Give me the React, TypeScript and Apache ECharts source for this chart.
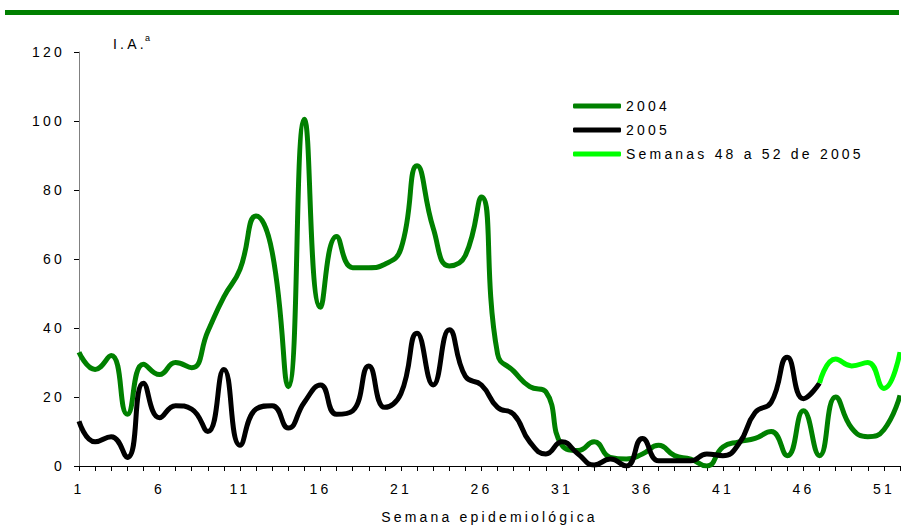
import React, { useEffect, useRef } from "react";
import * as echarts from "echarts";

const weeks = [
  "1", "2", "3", "4", "5", "6", "7", "8", "9", "10",
  "11", "12", "13", "14", "15", "16", "17", "18", "19", "20",
  "21", "22", "23", "24", "25", "26", "27", "28", "29", "30",
  "31", "32", "33", "34", "35", "36", "37", "38", "39", "40",
  "41", "42", "43", "44", "45", "46", "47", "48", "49", "50",
  "51", "52",
];

const values2004 = [
  33, 28, 32, 15, 29.5, 26.5, 30, 28.5, 39, 49,
  57, 72.5, 62, 23, 100.5, 46, 66.5, 57.5, 57.5, 58.5,
  63, 87, 69, 58, 61, 78, 32.5, 27.5, 23, 21.5,
  6, 4.5, 7, 2.5, 2, 3.5, 6, 3, 2, 0,
  5.5, 7, 8, 10, 3, 16, 3, 20, 11, 8.5,
  10.5, 20.5,
];

const values2005 = [
  13, 7, 8.5, 2.5, 24, 14, 17.5, 16.5, 10, 28,
  6, 16.5, 17.5, 11, 18.5, 23.5, 15, 16, 29, 17,
  21, 38.5, 23.5, 39.5, 26, 23.5, 17, 15, 7, 3.5,
  7, 3.5, 0.3, 2, 0, 8, 1.5, 1.5, 1.5, 3.5,
  3, 6.5, 15.5, 18.5, 31.5, 19.5, 24, null, null, null,
  null, null,
];

const valuesLate2005 = [
  null, null, null, null, null, null, null, null, null, null,
  null, null, null, null, null, null, null, null, null, null,
  null, null, null, null, null, null, null, null, null, null,
  null, null, null, null, null, null, null, null, null, null,
  null, null, null, null, null, null, 24, 31, 29, 30,
  22.5, 33,
];

const seriesNames = ["2004", "2005", "Semanas 48 a 52 de 2005"];
const yTicks = { min: 0, max: 120, interval: 20 };
const xAxisTitle = "Semana epidemiológica";
const yAxisTitle = "I.A.";
const yAxisSup = "a";

export default function App() {
  const ref = useRef<HTMLDivElement>(null);

  useEffect(() => {
    if (!ref.current) return;
    const chart = echarts.init(ref.current, null, { renderer: "svg" });
    const font = "Liberation Sans, Arial, sans-serif";
    chart.setOption({
      animation: false,
      backgroundColor: "#ffffff",
      textStyle: { fontFamily: font },
      grid: { left: 79, right: 1, top: 52, height: 420, containLabel: false },
      legend: {
        orient: "vertical",
        left: 573,
        top: 98,
        padding: 0,
        icon: "roundRect",
        itemWidth: 48,
        itemHeight: 5,
        itemGap: 8,
        data: seriesNames,
        textStyle: { fontSize: 14, color: "#000", fontFamily: font, lineHeight: 16, padding: [0, 0, 0, 0] },
      },
      graphic: [
        { type: "rect", shape: { x: 5, y: 10, width: 894, height: 5 }, style: { fill: "#008000" } },
        { type: "text", x: 113, y: 37, style: { text: yAxisTitle, fontSize: 14, fill: "#000", fontFamily: font } },
        { type: "text", x: 145, y: 33, style: { text: yAxisSup, fontSize: 9, fill: "#000", fontFamily: font } },
      ],
      xAxis: {
        type: "category",
        data: weeks,
        boundaryGap: false,
        name: xAxisTitle,
        nameLocation: "middle",
        nameGap: 44,
        nameTextStyle: { fontSize: 14, color: "#000", fontFamily: font },
        axisLine: { lineStyle: { color: "#000", width: 1 } },
        axisTick: { show: true, interval: 0, length: 5, lineStyle: { color: "#000" } },
        axisLabel: { interval: 4, fontSize: 14, color: "#000", margin: 16, fontFamily: font },
        splitLine: { show: false },
      },
      yAxis: {
        type: "value",
        min: yTicks.min,
        max: yTicks.max,
        interval: yTicks.interval,
        axisLine: { show: true, lineStyle: { color: "#808080", width: 1 } },
        axisTick: { show: true, length: 5, lineStyle: { color: "#000" } },
        axisLabel: { fontSize: 14, color: "#000", margin: 14, fontFamily: font },
        splitLine: { show: false },
      },
      series: [
        {
          name: seriesNames[0],
          type: "line",
          data: values2004,
          smooth: 0.5,
          symbol: "none",
          lineStyle: { color: "#008000", width: 5 },
          itemStyle: { color: "#008000" },
          z: 2,
        },
        {
          name: seriesNames[1],
          type: "line",
          data: values2005,
          smooth: 0.5,
          symbol: "none",
          connectNulls: false,
          lineStyle: { color: "#000000", width: 5 },
          itemStyle: { color: "#000000" },
          z: 3,
        },
        {
          name: seriesNames[2],
          type: "line",
          data: valuesLate2005,
          smooth: 0.5,
          symbol: "none",
          lineStyle: { color: "#00ff00", width: 5 },
          itemStyle: { color: "#00ff00" },
          z: 4,
        },
      ],
    });
    return () => chart.dispose();
  }, []);

  return (
    <div
      ref={ref}
      style={{
        position: "absolute",
        left: 0,
        top: 0,
        width: 901,
        height: 529,
        letterSpacing: "3.2px",
      }}
    />
  );
}
